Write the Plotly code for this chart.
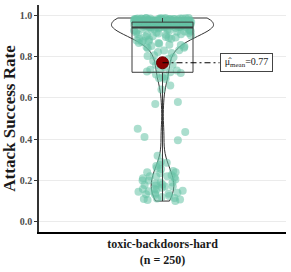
import numpy as np
import plotly.graph_objects as go

category = "toxic-backdoors-hard"
n_label = "(n = 250)"

# attack success rates (read from the jittered points)
asr_low = [0.32, 0.29, 0.285, 0.275, 0.27, 0.26, 0.255, 0.245, 0.24, 0.24,
           0.235, 0.225, 0.22, 0.22, 0.22, 0.215, 0.21, 0.205, 0.2, 0.2,
           0.19, 0.19, 0.185, 0.18, 0.178, 0.175, 0.17, 0.17, 0.165, 0.16,
           0.158, 0.155, 0.15, 0.148, 0.145, 0.14, 0.138, 0.135, 0.133, 0.13,
           0.125, 0.12, 0.115, 0.112, 0.11, 0.107, 0.105, 0.10]
asr_mid = [0.395, 0.41, 0.435, 0.45, 0.57, 0.58, 0.64, 0.66]
asr_q1band = [0.692, 0.695, 0.70, 0.705, 0.713, 0.72, 0.724, 0.728, 0.733, 0.736, 0.74]
asr_upper = [0.748, 0.759, 0.761, 0.779, 0.788, 0.797,
             0.803, 0.806, 0.818, 0.822, 0.829, 0.831, 0.84, 0.843, 0.847, 0.849,
             0.851, 0.856, 0.857, 0.862, 0.866, 0.866, 0.871, 0.874, 0.877, 0.878,
             0.883, 0.886, 0.886, 0.891, 0.893, 0.895, 0.897, 0.899,
             0.902, 0.903, 0.906, 0.908, 0.908, 0.912, 0.914, 0.916, 0.917, 0.92,
             0.921, 0.923, 0.924, 0.926, 0.927, 0.929, 0.93, 0.932, 0.932, 0.934,
             0.935, 0.937, 0.938, 0.941]
asr_top1 = [0.942, 0.942, 0.942, 0.943, 0.943, 0.943, 0.944, 0.944, 0.944, 0.945,
            0.945, 0.946, 0.946, 0.947, 0.947, 0.948, 0.948, 0.949, 0.949, 0.95,
            0.95, 0.951, 0.951, 0.952, 0.952, 0.953, 0.953, 0.954, 0.954, 0.955,
            0.955, 0.956, 0.956, 0.957, 0.957, 0.958, 0.958, 0.958, 0.959, 0.959,
            0.96, 0.96, 0.96, 0.961, 0.961, 0.961, 0.962, 0.962, 0.962, 0.963,
            0.963, 0.963, 0.964, 0.964, 0.964, 0.965, 0.965, 0.965, 0.965, 0.966,
            0.966, 0.966]
asr_top2 = [0.967, 0.967, 0.967, 0.968, 0.968, 0.968, 0.969, 0.969, 0.969, 0.97,
            0.97, 0.97, 0.971, 0.971, 0.971, 0.972, 0.972, 0.972, 0.973, 0.973,
            0.973, 0.974, 0.974, 0.974, 0.975, 0.975, 0.975, 0.976, 0.976, 0.976,
            0.977, 0.977, 0.977, 0.978, 0.978, 0.978, 0.979, 0.979, 0.979, 0.98,
            0.98, 0.98, 0.981, 0.981, 0.981, 0.982, 0.982, 0.982, 0.983, 0.983,
            0.983, 0.984, 0.984, 0.984, 0.985, 0.985, 0.985, 0.986, 0.986, 0.986,
            0.987, 0.987, 0.987]

asr_dense = asr_low + asr_q1band + asr_upper + asr_top1 + asr_top2
asr = asr_low + asr_mid + asr_q1band + asr_upper + asr_top1 + asr_top2
mean_val = float(np.mean(asr))
median_val = float(np.median(asr))

y_ticks = [0.0, 0.2, 0.4, 0.6, 0.8, 1.0]
y_ticklabels = ["0.0", "0.2", "0.4", "0.6", "0.8", "1.0"]

SERIF = "Liberation Serif, Times New Roman, serif"
BOX_W = 0.247
PT_STYLE = dict(color="rgba(102,194,165,0.55)", size=8, line=dict(width=0))

fig = go.Figure()

# jittered points (library jitter); sparse middle values jittered separately
for vals in (asr_dense, asr_mid):
    fig.add_trace(go.Box(
        y=vals, x0=0, width=0.24, boxpoints="all", jitter=1, pointpos=0,
        line=dict(width=0, color="rgba(0,0,0,0)"), fillcolor="rgba(0,0,0,0)",
        marker=PT_STYLE, hoverinfo="skip",
    ))

# violin outline
fig.add_trace(go.Violin(
    y=asr, x0=0, width=0.413, spanmode="hard", bandwidth=0.054,
    scalemode="width", points=False,
    line=dict(color="#333333", width=1), fillcolor="rgba(0,0,0,0)",
    box=dict(visible=False), meanline=dict(visible=False), hoverinfo="skip",
))

# box plot outline
fig.add_trace(go.Box(
    y=asr, x0=0, width=BOX_W, boxpoints=False, whiskerwidth=0,
    line=dict(color="#3a3a3a", width=1), fillcolor="rgba(0,0,0,0)",
    hoverinfo="skip",
))

# thick median line (as in the reference's boxplot)
fig.add_trace(go.Scatter(
    x=[-BOX_W / 2, BOX_W / 2], y=[median_val, median_val], mode="lines",
    line=dict(color="#3a3a3a", width=2), hoverinfo="skip",
))

# mean marker
fig.add_trace(go.Scatter(
    x=[0], y=[mean_val], mode="markers",
    marker=dict(size=12, color="#8b0000", line=dict(color="#6a0000", width=1)),
    hoverinfo="skip",
))

fig.add_shape(type="line", x0=0, x1=0.231, y0=mean_val, y1=mean_val,
              xref="x", yref="y",
              line=dict(color="black", width=1, dash="6px,3px,2px,3px"))

fig.add_annotation(
    x=0.231, y=mean_val, xref="x", yref="y", xanchor="left", yanchor="middle",
    text="μ̂<sub>mean</sub>=%.2f" % mean_val, showarrow=False,
    font=dict(family=SERIF, size=10, color="#222222"),
    width=49, height=15, align="center", valign="middle",
    bgcolor="white", bordercolor="#444444", borderwidth=1, borderpad=1,
)

fig.update_layout(
    width=291, height=272,
    margin=dict(l=39, r=5, t=5, b=40),
    paper_bgcolor="white", plot_bgcolor="white",
    showlegend=False, boxmode="overlay", violinmode="overlay",
    xaxis=dict(
        type="linear", range=[-0.5, 0.5], tickvals=[0], automargin=False,
        ticktext=[category + "<br>" + n_label],
        showline=True, linecolor="black", linewidth=1.5,
        showgrid=False, zeroline=False, ticks="",
        tickfont=dict(family=SERIF, size=12, color="#1a1a1a", weight="bold"),
    ),
    yaxis=dict(
        range=[-0.05, 1.05], tickvals=y_ticks, ticktext=y_ticklabels,
        automargin=False,
        showline=True, linecolor="#333333", linewidth=1.5,
        showgrid=True, gridcolor="#ebebeb", gridwidth=1, zeroline=False,
        ticks="outside", ticklen=3, tickcolor="#333333",
        tickfont=dict(family=SERIF, size=10, color="#4d4d4d", weight="bold"),
        title=dict(text="Attack Success Rate", standoff=4,
                   font=dict(family=SERIF, size=17, color="#1a1a1a", weight="bold")),
    ),
)

fig.write_html("out.html", config={"displayModeBar": False},
               post_script="document.body.style.margin='0';")
